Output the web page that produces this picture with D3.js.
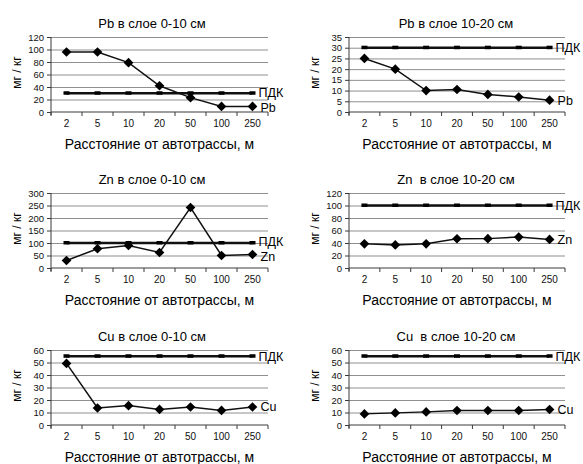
<!DOCTYPE html>
<html lang="ru">
<head>
<meta charset="UTF-8">
<title>Pb, Zn, Cu</title>
<script src="https://d3js.org/d3.v7.min.js"></script>
<style>
    body { margin: 0; background: #fff; }
    svg { display: block; font-family: "Liberation Sans", Arial, sans-serif; }
    .grid line { stroke: #8f8f8f; stroke-width: 1; }
    .grid path { display: none; }
    .axis path, .axis line { stroke: #3a3a3a; }
    .axis text { fill: #111; }
    text { white-space: pre; }
</style>
</head>
<body>
<div id="chart"></div>
<script>
// Данные
const distances = ["2", "5", "10", "20", "50", "100", "250"];
const pb010 = [96, 96, 79, 42, 23, 9, 9];
const pb1020 = [25, 20, 10, 10.5, 8.2, 7, 5.5];
const zn010 = [30, 77, 90, 62, 242, 50, 54];
const zn1020 = [38.7, 37, 38.7, 46.8, 47, 49.5, 45.7];
const cu010 = [49.3, 13.6, 15.5, 12.5, 14.4, 11.7, 14.4];
const cu1020 = [8.9, 9.7, 10.5, 11.6, 11.6, 11.6, 12.4];
const pdkValues = [30, 30, 100, 100, 55, 55];
const elements = ["Pb", "Pb", "Zn", "Zn", "Cu", "Cu"];
const titles = ["Pb в слое 0-10 см", "Pb в слое 10-20 см", "Zn в слое 0-10 см", "Zn  в слое 10-20 см", "Cu в слое 0-10 см", "Cu  в слое 10-20 см"];
const yMax = [120, 35, 300, 120, 60, 60];
const yStep = [20, 5, 50, 20, 10, 10];
const series = [pb010, pb1020, zn010, zn1020, cu010, cu1020];

const W = 583, H = 464;
const svg = d3.select("#chart").append("svg")
    .attr("width", W).attr("height", H);

// положение областей построения
const cols = [[51, 268], [349, 565]];
const rows = [[37, 112], [193, 268], [350, 425]];
const titleX = [152, 456];

const diamond = d3.symbol().type(d3.symbolDiamond2).size(60);

series.forEach((vals, i) => {
    const [x0, x1] = cols[i % 2];
    const [y0, y1] = rows[Math.floor(i / 2)];
    const g = svg.append("g");

    const x = d3.scaleBand().domain(distances).range([x0, x1]);
    const cx = d => x(d) + x.bandwidth() / 2;
    const y = d3.scaleLinear().domain([0, yMax[i]]).range([y1, y0]);
    const ticks = d3.range(0, yMax[i] + yStep[i] / 2, yStep[i]);

    // сетка
    g.append("g").attr("class", "grid")
        .attr("transform", `translate(${x0},0)`)
        .call(d3.axisLeft(y).tickValues(ticks.slice(1)).tickSize(-(x1 - x0)).tickFormat(""));

    // ось Y
    const ya = g.append("g").attr("class", "axis")
        .attr("transform", `translate(${x0},0)`)
        .call(d3.axisLeft(y).tickValues(ticks).tickSize(4).tickPadding(3));
    ya.select(".domain").attr("d", `M0,${y0}V${y1 + 3}`);
    ya.selectAll("text").style("font-size", "9.5px");

    // ось X
    const xa = g.append("g").attr("class", "axis")
        .attr("transform", `translate(0,${y1})`)
        .call(d3.axisBottom(x).tickSize(0).tickPadding(8));
    xa.select(".domain").attr("d", `M${x0},0H${x1}`);
    xa.selectAll("text").style("font-size", "10px");
    xa.selectAll(".bound").data(distances.map(d => x(d)).concat([x1]))
        .enter().append("line")
        .attr("x1", d => d).attr("x2", d => d)
        .attr("y1", 0).attr("y2", 4)
        .attr("stroke", "#3a3a3a");

    // ПДК
    const pdkLine = d3.line().x(d => cx(d)).y(() => y(pdkValues[i]));
    g.append("path").attr("d", pdkLine(distances))
        .attr("fill", "none").attr("stroke", "#111").attr("stroke-width", 2.5);
    g.selectAll(".pdkm").data(distances).enter().append("rect")
        .attr("x", d => cx(d) - 3).attr("y", y(pdkValues[i]) - 2)
        .attr("width", 6).attr("height", 3.5).attr("fill", "#000");

    // ряд
    const line = d3.line().x((d, k) => cx(distances[k])).y(d => y(d));
    g.append("path").attr("d", line(vals))
        .attr("fill", "none").attr("stroke", "#111").attr("stroke-width", 1.5);
    g.selectAll(".pt").data(vals).enter().append("path")
        .attr("d", diamond)
        .attr("transform", (d, k) => `translate(${cx(distances[k])},${y(d)})`)
        .attr("fill", "#000");

    // подписи рядов (раздвигаем, если слишком близко)
    const lastX = cx(distances[distances.length - 1]);
    let yPdk = y(pdkValues[i]);
    let yEl = y(vals[vals.length - 1]);
    const gap = Math.abs(yEl - yPdk);
    if (gap < 15) {
        const push = (15 - gap) / 2;
        if (yEl > yPdk) { yEl += push; yPdk -= push; } else { yEl -= push; yPdk += push; }
    }
    g.append("text").attr("x", lastX + 6).attr("y", yPdk)
        .attr("dy", "0.35em").style("font-size", "12.5px").text("ПДК");
    g.append("text").attr("x", lastX + 8).attr("y", yEl)
        .attr("dy", "0.35em").style("font-size", "12.5px").text(elements[i]);

    // заголовки
    g.append("text").attr("x", titleX[i % 2]).attr("y", y0 - 9)
        .attr("text-anchor", "middle").style("font-size", "13px").text(titles[i]);
    g.append("text").attr("x", (x0 + x1) / 2).attr("y", y1 + 37)
        .attr("text-anchor", "middle").style("font-size", "14px")
        .text("Расстояние от автотрассы, м");
    g.append("text")
        .attr("transform", `translate(${x0 - 34},${(y0 + y1) / 2 - 2}) rotate(-90)`)
        .attr("text-anchor", "middle").attr("dy", "0.35em")
        .style("font-size", "12px").text("мг / кг");
});
</script>
</body>
</html>
